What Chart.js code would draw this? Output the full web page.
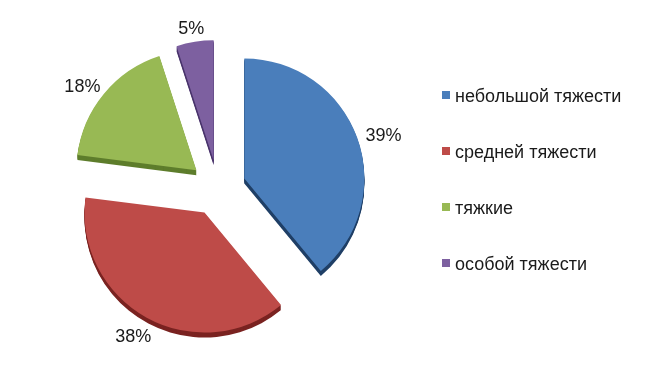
<!DOCTYPE html>
<html>
<head>
<meta charset="utf-8">
<script src="https://cdn.jsdelivr.net/npm/chart.js@4/dist/chart.umd.min.js"></script>
<style>
    body { margin: 0; background: #fff; }
    .chart-box { width: 647px; height: 389px; }
</style>
</head>
<body>
<div class="chart-box"><canvas id="pie"></canvas></div>
<script>
// Data

const categories = ["небольшой тяжести", "средней тяжести", "тяжкие", "особой тяжести"];
const values = [39, 38, 18, 5];
const percentLabels = ["39%", "38%", "18%", "5%"];

const faceColors = ["#4A7EBB", "#BE4B48", "#98B954", "#7D60A0"];
const sideColors = ["#1F3F66", "#7A2321", "#5E7D2C", "#4A346C"];

const explode = 28;
const depth = 5;

// Exploded pie with a little 3D edge

const explodedPie = {
    id: "explodedPie",
    beforeDatasetsDraw(chart) {
        const ctx = chart.ctx;
        const arcs = chart.getDatasetMeta(0).data;

        arcs.forEach((arc, i) => {
            const p = arc.getProps(["x", "y", "startAngle", "endAngle", "outerRadius"]);
            const mid = (p.startAngle + p.endAngle) / 2;
            const cx = p.x + Math.cos(mid) * explode;
            const cy = p.y + Math.sin(mid) * explode;
            ctx.save();
            ctx.fillStyle = sideColors[i];
            for (let k = depth; k >= 1; k--) {
                ctx.beginPath();
                ctx.moveTo(cx, cy + k);
                ctx.arc(cx, cy + k, p.outerRadius, p.startAngle, p.endAngle);
                ctx.closePath();
                ctx.fill();
            }
            ctx.restore();
        });

        arcs.forEach((arc) => {
            const p = arc.getProps(["startAngle", "endAngle"]);
            const mid = (p.startAngle + p.endAngle) / 2;
            ctx.save();
            ctx.translate(Math.cos(mid) * explode, Math.sin(mid) * explode);
            arc.draw(ctx);
            ctx.restore();
        });
        return false;
    },
    afterDraw(chart) {
        const ctx = chart.ctx;
        const arcs = chart.getDatasetMeta(0).data;
        ctx.save();
        ctx.font = "18px 'Liberation Sans', Arial, sans-serif";
        ctx.fillStyle = "#1a1a1a";
        ctx.textAlign = "center";
        ctx.textBaseline = "middle";

        // percent labels outside the slices
        arcs.forEach((arc, i) => {
            const p = arc.getProps(["x", "y", "startAngle", "endAngle", "outerRadius"]);
            const mid = (p.startAngle + p.endAngle) / 2;
            const cos = Math.cos(mid);
            const sin = Math.sin(mid);
            const r = explode + p.outerRadius + 10;
            const halfW = ctx.measureText(percentLabels[i]).width / 2;
            ctx.fillText(percentLabels[i], p.x + cos * r + cos * halfW, p.y + sin * r + sin * 7 + 4);
        });

        // legend
        ctx.textAlign = "left";
        categories.forEach((name, i) => {
            const y = 95 + i * 56;
            ctx.fillStyle = faceColors[i];
            ctx.fillRect(442, y - 4, 8, 8);
            ctx.fillStyle = "#1a1a1a";
            ctx.fillText(name, 455, y + 2);
        });
        ctx.restore();
    }
};

const ctx = document.getElementById("pie");

const chart = new Chart(ctx, {
    type: "pie",
    data: {
        labels: categories,
        datasets: [
        {
            data: values,
            backgroundColor: faceColors,
            borderWidth: 0,
            hoverOffset: 0,
        },
    ]
    },
    options: {
        responsive: true,
        maintainAspectRatio: false,
        devicePixelRatio: 1,
        animation: false,
        layout: {
            padding: { left: 98, top: 68, right: 309, bottom: 81 }
        },
        plugins: {
            legend: {
                display: false
            },
            tooltip: false,
        },
    },
    plugins: [explodedPie],
});
</script>
</body>
</html>
